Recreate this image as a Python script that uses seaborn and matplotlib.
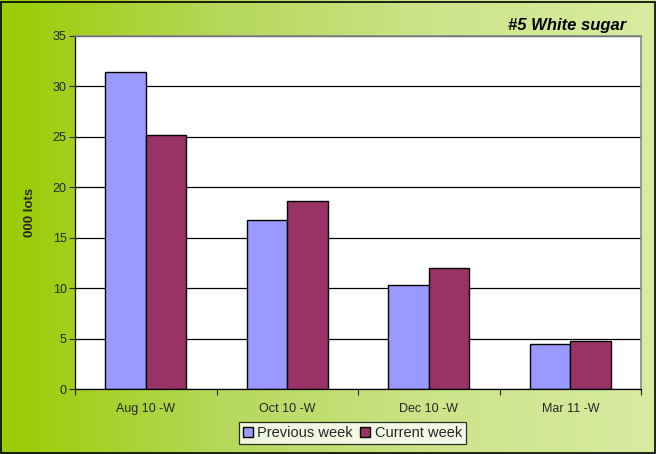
import numpy as np
import pandas as pd
import matplotlib
matplotlib.use("Agg")
import matplotlib.pyplot as plt
import seaborn as sns
from matplotlib.colors import LinearSegmentedColormap

# DATA
categories = ["Aug 10 -W", "Oct 10 -W", "Dec 10 -W", "Mar 11 -W"]
previous_week = [31.4, 16.8, 10.3, 4.45]
current_week = [25.2, 18.6, 12.0, 4.75]
series_names = ["Previous week", "Current week"]
y_ticks = [0, 5, 10, 15, 20, 25, 30, 35]

df = pd.DataFrame({
    "contract": categories * 2,
    "lots": previous_week + current_week,
    "series": [series_names[0]] * 4 + [series_names[1]] * 4,
})

sns.set_style("white")
plt.rcParams["font.family"] = ["Liberation Sans", "DejaVu Sans"]

fig = plt.figure(figsize=(6.56, 4.54), dpi=100)

# gradient background
bg = fig.add_axes([0, 0, 1, 1], zorder=-10)
grad = np.linspace(0, 1, 256).reshape(1, -1)
cmap = LinearSegmentedColormap.from_list("g", ["#99cc00", "#b5d85a", "#cde48a", "#d8eba0"])
bg.imshow(grad, aspect="auto", cmap=cmap, extent=[0, 1, 0, 1])
bg.set_axis_off()
fig.patches.append(plt.Rectangle((0.002, 0.002), 0.996, 0.994, transform=fig.transFigure,
                                 fill=False, edgecolor="black", linewidth=1.2, zorder=20))

ax = fig.add_axes([75 / 656, 1 - 389 / 454, 566 / 656, 353 / 454])
ax.set_facecolor("white")

sns.barplot(data=df, x="contract", y="lots", hue="series",
            palette=["#9999ff", "#993366"], width=0.57,
            edgecolor="black", linewidth=1, saturation=1, ax=ax)

ax.set_ylim(0, 35)
ax.set_xlim(-0.5, 3.5)
ax.set_yticks(y_ticks)
ax.yaxis.grid(True, color="black", linewidth=0.9)
ax.set_axisbelow(True)
ax.tick_params(axis="y", direction="out", length=4, width=0.8, labelsize=9, pad=2, left=True)
ax.tick_params(axis="x", which="major", length=0, labelsize=9, pad=10)
ax.set_xticks(np.arange(-0.5, 4.0, 1.0), minor=True)
ax.tick_params(axis="x", which="minor", direction="out", length=4, width=0.8, bottom=True)

for side in ["left", "bottom"]:
    ax.spines[side].set_color("black")
    ax.spines[side].set_linewidth(0.9)
for side in ["top", "right"]:
    ax.spines[side].set_color("#888888")
    ax.spines[side].set_linewidth(1.2)

ax.set_xlabel("")
ax.set_ylabel("000 lots", fontsize=9.5, fontweight="bold", labelpad=12)

leg = ax.legend(loc="center", bbox_to_anchor=(0.49, -0.125), ncol=2, frameon=True,
                fontsize=10.5, handlelength=0.7, handleheight=0.7, handletextpad=0.3,
                columnspacing=0.5, borderpad=0.25, fancybox=False)
leg.get_frame().set_edgecolor("black")
leg.get_frame().set_linewidth(0.9)

fig.text(626 / 656, 1 - 30 / 454, "#5 White sugar", ha="right", va="baseline",
         fontsize=12, fontweight="bold", fontstyle="italic", color="black")

fig.savefig("out.png", dpi=100)
